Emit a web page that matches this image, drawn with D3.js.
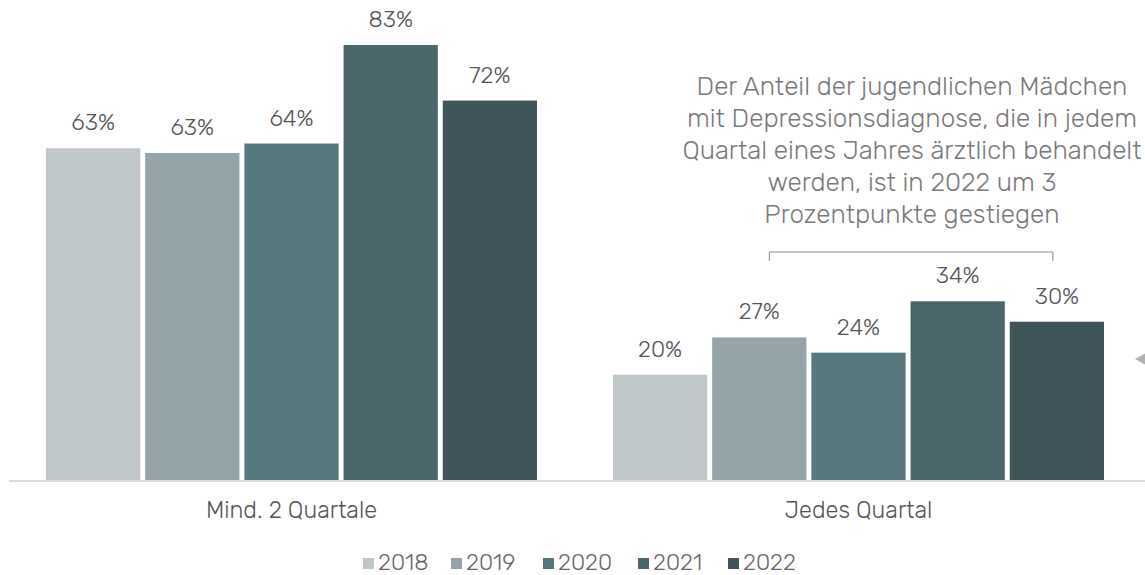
<!DOCTYPE html>
<html>
<head>
<meta charset="utf-8">
<script src="https://cdn.jsdelivr.net/npm/d3@7"></script>
<style>
  body { margin: 0; background: #fff; }
  text { font-family: Rubik, Roboto, "Open Sans", sans-serif; font-weight: 300; }
</style>
</head>
<body>
<div id="vis"></div>
<script>
var categories = ["Mind. 2 Quartale", "Jedes Quartal"];
var years = ["2018", "2019", "2020", "2021", "2022"];
var values = {
    "Mind. 2 Quartale": [63.3, 62.4, 64.2, 83.0, 72.4],
    "Jedes Quartal": [20.1, 27.2, 24.3, 34.1, 30.2]
};
var valueLabels = {
    "Mind. 2 Quartale": ["63%", "63%", "64%", "83%", "72%"],
    "Jedes Quartal": ["20%", "27%", "24%", "34%", "30%"]
};
var colors = ["#bfc7c8", "#95a4a7", "#56777c", "#4b676c", "#405559"];
var note = [
    "Der Anteil der jugendlichen Mädchen",
    "mit Depressionsdiagnose, die in jedem",
    "Quartal eines Jahres ärztlich behandelt",
    "werden, ist in 2022 um 3",
    "Prozentpunkte gestiegen"
];

var width = 1145, height = 575, baseline = 480;

var svg = d3.select("#vis")
    .append("svg")
    .attr("width", width)
    .attr("height", height);

var x0 = d3.scaleBand().domain(categories).range([46, 1104]).paddingInner(0.134);
var x1 = d3.scaleBand().domain(years).range([0, x0.bandwidth()]).paddingInner(0.05);
var y = d3.scaleLinear().domain([0, 83]).range([baseline, 45]);

var groups = svg.selectAll(".grp")
    .data(categories)
    .enter()
    .append("g")
    .attr("class", "grp")
    .attr("transform", d => "translate(" + x0(d) + ",0)");

groups.selectAll("rect")
    .data(c => values[c].map((v, i) => ({ year: years[i], v: v, label: valueLabels[c][i], i: i })))
    .enter()
    .append("rect")
    .attr("x", d => x1(d.year))
    .attr("y", d => y(d.v))
    .attr("width", x1.bandwidth())
    .attr("height", d => baseline - y(d.v))
    .attr("fill", d => colors[d.i]);

groups.selectAll(".lbl")
    .data(c => values[c].map((v, i) => ({ year: years[i], v: v, label: valueLabels[c][i] })))
    .enter()
    .append("text")
    .attr("class", "lbl")
    .attr("x", d => x1(d.year) + x1.bandwidth() / 2)
    .attr("y", d => y(d.v) - 18)
    .attr("text-anchor", "middle")
    .attr("font-size", 23)
    .attr("fill", "#555")
    .text(d => d.label);

// baseline
svg.append("line")
    .attr("x1", 9).attr("x2", width)
    .attr("y1", baseline + 1).attr("y2", baseline + 1)
    .attr("stroke", "#dcdcdc")
    .attr("stroke-width", 2);

// category labels
svg.selectAll(".cat")
    .data(categories)
    .enter()
    .append("text")
    .attr("class", "cat")
    .attr("x", d => x0(d) + x0.bandwidth() / 2)
    .attr("y", 518)
    .attr("text-anchor", "middle")
    .attr("font-size", 23.5)
    .attr("fill", "#555")
    .text(d => d);

// annotation
svg.append("text")
    .attr("text-anchor", "middle")
    .attr("font-size", 26)
    .attr("fill", "#7a7a7a")
    .selectAll("tspan")
    .data(note)
    .enter()
    .append("tspan")
    .attr("x", 912)
    .attr("y", (d, i) => 95 + i * 32)
    .text(d => d);

// bracket over 2019..2022 of second group
var g2 = x0(categories[1]);
var bx1 = g2 + x1("2019") + x1.bandwidth() / 2 + 10;
var bx2 = g2 + x1("2022") + x1.bandwidth() / 2 - 4;
svg.append("path")
    .attr("d", "M" + bx1 + ",261V252H" + bx2 + "V261")
    .attr("fill", "none")
    .attr("stroke", "#888")
    .attr("stroke-width", 1);

// arrow cut at right edge
svg.append("path")
    .attr("d", "M1135,359L1148,352L1148,366Z")
    .attr("fill", "#b0b0b0");

// legend
var legendX = [363, 451, 543, 638, 728];
var leg = svg.selectAll(".leg")
    .data(years)
    .enter()
    .append("g")
    .attr("class", "leg")
    .attr("transform", (d, i) => "translate(" + legendX[i] + ",570)");
leg.append("rect")
    .attr("x", 0).attr("y", -12)
    .attr("width", 11).attr("height", 11)
    .attr("fill", (d, i) => colors[i]);
leg.append("text")
    .attr("x", 15)
    .attr("y", 0)
    .attr("font-size", 23)
    .attr("fill", "#666")
    .text(d => d);
</script>
</body>
</html>
